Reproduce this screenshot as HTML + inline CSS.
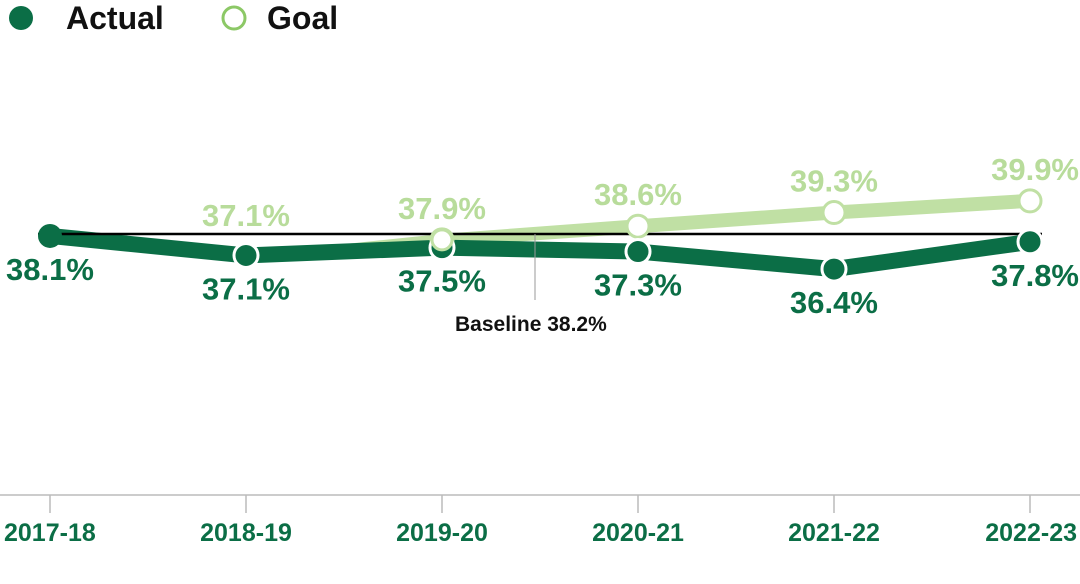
<!DOCTYPE html>
<html><head><meta charset="utf-8"><style>
body{margin:0;background:#fff;width:1080px;height:579px;overflow:hidden}
svg{font-family:"Liberation Sans",sans-serif;font-weight:bold}
</style></head><body>
<svg id="c" width="1080" height="579">
<g>
<circle cx="21" cy="18" r="12" fill="#0b6e46"/>
<text x="66" y="29" font-size="32" fill="#111">Actual</text>
<circle cx="234" cy="18" r="11" fill="#fff" stroke="#8cc866" stroke-width="3"/>
<text x="267" y="29" font-size="32" fill="#111">Goal</text>
</g>
</svg>
<script>
const categories=["2017-18","2018-19","2019-20","2020-21","2021-22","2022-23"];
const actualValues=[38.1,37.1,37.5,37.3,36.4,37.8];
const goalValues=[null,37.1,37.9,38.6,39.3,39.9];
const baselineValue=38.2;
const svg=document.getElementById('c');
const NS='http://www.w3.org/2000/svg';
const x=i=>50+i*196;
const y=v=>234-(v-baselineValue)*19.5;
function mk(t,a,p){const e=document.createElementNS(NS,t);for(const k in a)e.setAttribute(k,a[k]);(p||svg).appendChild(e);return e;}
let ax=mk('line',{x1:0,x2:1080,y1:495,y2:495,stroke:'#bbb','stroke-width':1.5});


categories.forEach((c,i)=>{
 let t=mk('line',{x1:x(i),x2:x(i),y1:495,y2:513,stroke:'#bbb','stroke-width':1.5});
 
 
 let l=mk('text',{x:x(i),y:541,'font-size':25,fill:'#0b6e46','text-anchor':i==0?'start':(i==5?'end':'middle')});
 if(i==0)l.setAttribute('x',4); if(i==5)l.setAttribute('x',1077);
 l.textContent=c;
 
 
});
let gpts=[];goalValues.forEach((v,i)=>{if(v!=null)gpts.push([x(i),y(v)]);});
let gp='M'+gpts[0][0]+','+(gpts[0][1]-1)+' L'+gpts[1][0]+','+(gpts[1][1]-6);
for(let k=2;k<gpts.length;k++)gp+=' L'+gpts[k][0]+','+(gpts[k][1]-7);
for(let k=gpts.length-1;k>=1;k--)gp+=' L'+gpts[k][0]+','+(gpts[k][1]+7);
gp+=' L'+gpts[0][0]+','+(gpts[0][1]+1)+'Z';
let gl=mk('path',{d:gp,fill:'#c0e0a4'});


let al=mk('polyline',{points:actualValues.map((v,i)=>x(i)+','+y(v)).join(' '),fill:'none',stroke:'#0b6e46','stroke-width':16,'stroke-linejoin':'round'});


let bl=mk('line',{x1:38,x2:1042,y1:y(baselineValue),y2:y(baselineValue),stroke:'#000','stroke-width':2.5});


let bv=mk('line',{x1:535,x2:535,y1:y(baselineValue),y2:300,stroke:'#999','stroke-width':1});


let bt=mk('text',{x:455,y:331,'font-size':21,fill:'#111'});
bt.textContent='Baseline '+baselineValue.toFixed(1)+'%';


goalValues.forEach((v,i)=>{if(v==null)return;
 if(i>1){let m=mk('circle',{cx:x(i),cy:y(v),r:11,fill:'#fff',stroke:'#c0e0a4','stroke-width':3});
 
 }
 let t=mk('text',{x:x(i),y:y(v)-21,'font-size':31,fill:'#b8dc9b','text-anchor':i==5?'end':'middle'});
 if(i==5)t.setAttribute('x',1079);
 if(i==1)t.setAttribute('y',226);
 t.textContent=v.toFixed(1)+'%';
 
 
});
actualValues.forEach((v,i)=>{
 let m=mk('circle',{cx:x(i),cy:y(v),r:12,fill:'#0b6e46',stroke:'#fff','stroke-width':i==0?0:3});
 
 
 let t=mk('text',{x:x(i),y:y(v)+44,'font-size':31,fill:'#0b6e46','text-anchor':i==5?'end':'middle'});
 if(i==0)t.setAttribute('x',50);
 if(i==5)t.setAttribute('x',1079);
 t.textContent=v.toFixed(1)+'%';
 
 
});
(function(){let i=2;let m=mk('circle',{cx:x(i),cy:y(goalValues[i]),r:10,fill:'#fff',stroke:'#c0e0a4','stroke-width':3});

})();
</script>
</body></html>
